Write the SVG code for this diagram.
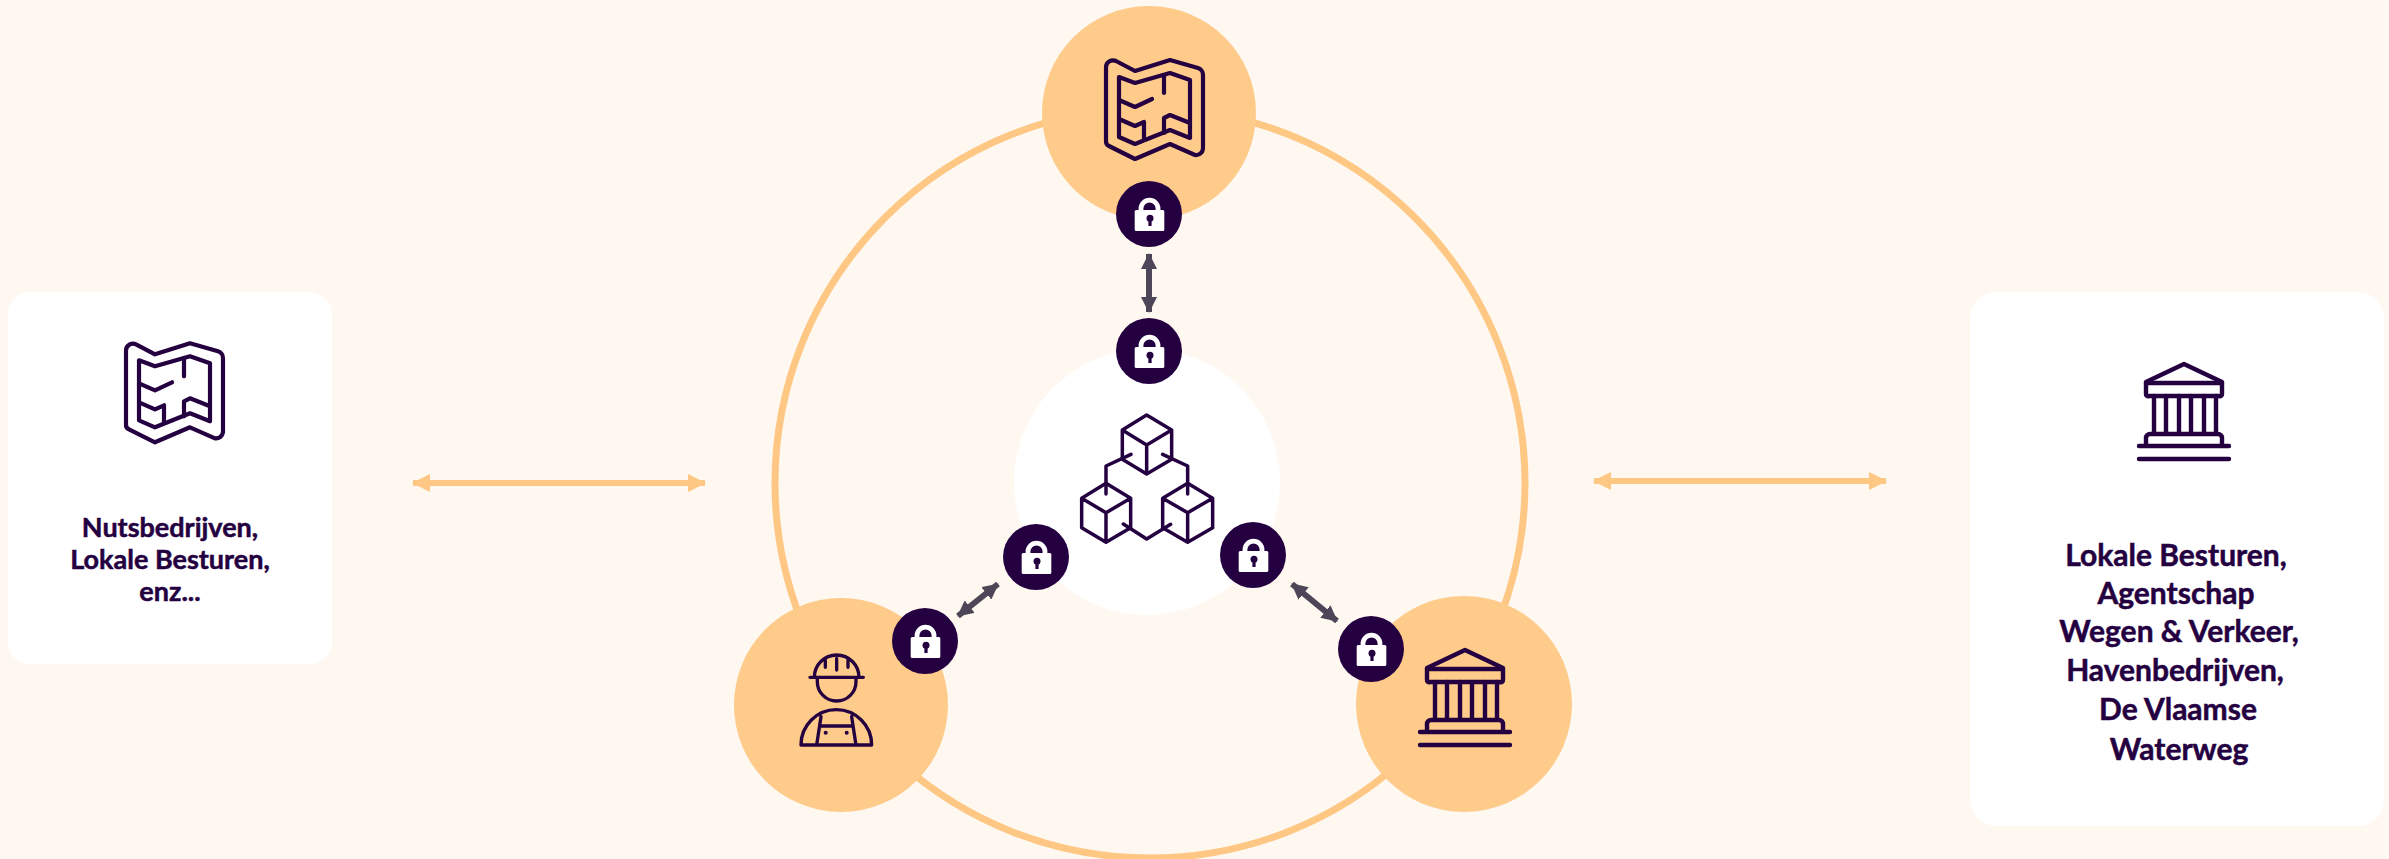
<svg xmlns="http://www.w3.org/2000/svg" width="2389" height="859" viewBox="0 0 2389 859">
<style>
.ic{fill:none;stroke:#240041;stroke-linecap:round;stroke-linejoin:round}
.big{fill:#fecb8b}
.lab{font-family:"Lato","Liberation Sans",sans-serif;font-weight:700;fill:#240041;stroke:#240041;stroke-width:.5;text-anchor:middle}
.dk{stroke:#4d4658;stroke-width:6;fill:none}
.or{stroke:#fec784;stroke-width:6;fill:none}
</style>
<defs>
<marker id="ah" viewBox="0 0 16 16" refX="15" refY="8" markerWidth="16" markerHeight="16" markerUnits="userSpaceOnUse" orient="auto-start-reverse"><path d="M0 0L16 8L0 16z" fill="#4d4658"/></marker>
<marker id="ao" viewBox="0 0 18 18" refX="17" refY="9" markerWidth="18" markerHeight="18" markerUnits="userSpaceOnUse" orient="auto-start-reverse"><path d="M0 0L18 9L0 18z" fill="#fec784"/></marker>
<g id="lock">
<circle r="33" fill="#240041"/>
<path d="M-8 -3V-5.4A8.5 8.5 0 0 1 9 -5.4V-3" fill="none" stroke="#fff" stroke-width="4.8"/>
<rect x="-14.3" y="-4" width="29.6" height="21" rx="1.5" fill="#fff"/>
<circle cx="1" cy="4.3" r="3.5" fill="#240041"/>
<rect x="-.6" y="5" width="3.2" height="7" fill="#240041"/>
</g>
<g id="map" class="ic" stroke-width="4.2">
<path d="M86 67A7 7 0 0 1 96 61L115 71L150 60L178 68A7 7 0 0 1 183 75V149A7 7 0 0 1 175 155L150 144L115 159L89 146A5 5 0 0 1 86 141Z"/>
<path d="M99 77L115 83L150 73L170 80V138L150 130L115 144L99 137Z"/>
<path d="M144 75V93M99 100L115 107L132 99M99 119L115 126L124 122V139M144 133V118L150 115L170 123"/>
</g>
<g id="bank" class="ic" stroke-width="4.4">
<path d="M87 48L125 30L163 48A3 3 0 0 1 163 49V60A2 2 0 0 1 160 62H90A2 2 0 0 1 87 60V49Z"/>
<path d="M87 49H163M95 62V99M107 62V99M120 62V99M132 62V99M145 62V99M157 62V99"/>
<path d="M87 111V104A4 4 0 0 1 91 100H159A4 4 0 0 1 163 104V111"/>
<path d="M80 112H170M80 125H170"/>
</g>
</defs>
<rect width="2389" height="859" fill="#fff8f1"/>
<g id="ring"><circle cx="1150" cy="483" r="375" fill="none" stroke="#fec784" stroke-width="7"/></g>
<g id="node-center">
<circle cx="1147" cy="482" r="133" fill="#fff"/>
<g transform="translate(1040 390) scale(0.3333)" class="ic" stroke-width="10.5">
<path d="M320 75L395 120V208L320 252L247 208V120Z M247 120L320 165L395 120M320 165V252"/>
<path d="M198 280L272 325V413L198 457L125 413V325Z M125 325L198 368L272 325M198 368V457"/>
<path d="M443 280L518 325V413L443 457L368 413V325Z M368 325L443 368L518 325M443 368V457"/>
<path d="M273 193L198 228V312M368 193L443 228V312M250 402L320 447L392 403"/>
</g>
</g>
<g id="node-top">
<circle class="big" cx="1149" cy="113" r="107"/>
<use href="#map" transform="translate(1020 0)"/>
</g>
<g id="node-left">
<circle class="big" cx="841" cy="705" r="107"/>
<g transform="translate(720 590) scale(0.3333)" class="ic" stroke-width="10">
<path d="M270 262H430M283 262A67 67 0 0 1 417 262M292 262V275A58 58 0 0 0 408 275V262M350 205V240M316 210V232M384 210V232"/>
<path d="M243 465H455A106 106 0 0 0 243 465ZM303 380L290 465M395 380L408 465M300 408H397"/>
</g>
<g fill="#240041"><circle cx="825.7" cy="732.7" r="2"/><circle cx="846.7" cy="732.7" r="2"/></g>
</g>
<g id="node-right">
<circle class="big" cx="1464" cy="704" r="108"/>
<use href="#bank" transform="translate(1340 620)"/>
</g>
<g id="card-left">
<rect x="8" y="292" width="324" height="372" rx="22" fill="#fff"/>
<use href="#map" transform="translate(40 283.3)"/>
<text class="lab" font-size="27"><tspan x="170" y="537">Nutsbedrijven,</tspan><tspan x="170" y="569">Lokale Besturen,</tspan><tspan x="170" y="601">enz...</tspan></text>
</g>
<g id="card-right">
<rect x="1970" y="292" width="414" height="534" rx="26" fill="#fff"/>
<use href="#bank" transform="translate(2059 334)"/>
<text class="lab" font-size="30"><tspan x="2176" y="566">Lokale Besturen,</tspan><tspan x="2176" y="604">Agentschap</tspan><tspan x="2179" y="642">Wegen &amp; Verkeer,</tspan><tspan x="2175" y="681">Havenbedrijven,</tspan><tspan x="2178" y="720">De Vlaamse</tspan><tspan x="2179" y="760">Waterweg</tspan></text>
</g>
<g id="locks">
<use href="#lock" x="1149" y="214"/>
<use href="#lock" x="1149" y="351"/>
<use href="#lock" x="1036" y="557"/>
<use href="#lock" x="1253" y="555"/>
<use href="#lock" x="925" y="641"/>
<use href="#lock" x="1371" y="649"/>
</g>
<g id="connectors">
<path class="dk" d="M1149 254V312" marker-start="url(#ah)" marker-end="url(#ah)"/>
<path class="dk" d="M998 584L958 616" marker-start="url(#ah)" marker-end="url(#ah)"/>
<path class="dk" d="M1292 584L1337 621" marker-start="url(#ah)" marker-end="url(#ah)"/>
<path class="or" d="M413 483H705" marker-start="url(#ao)" marker-end="url(#ao)"/>
<path class="or" d="M1594 481H1886" marker-start="url(#ao)" marker-end="url(#ao)"/>
</g>
</svg>
